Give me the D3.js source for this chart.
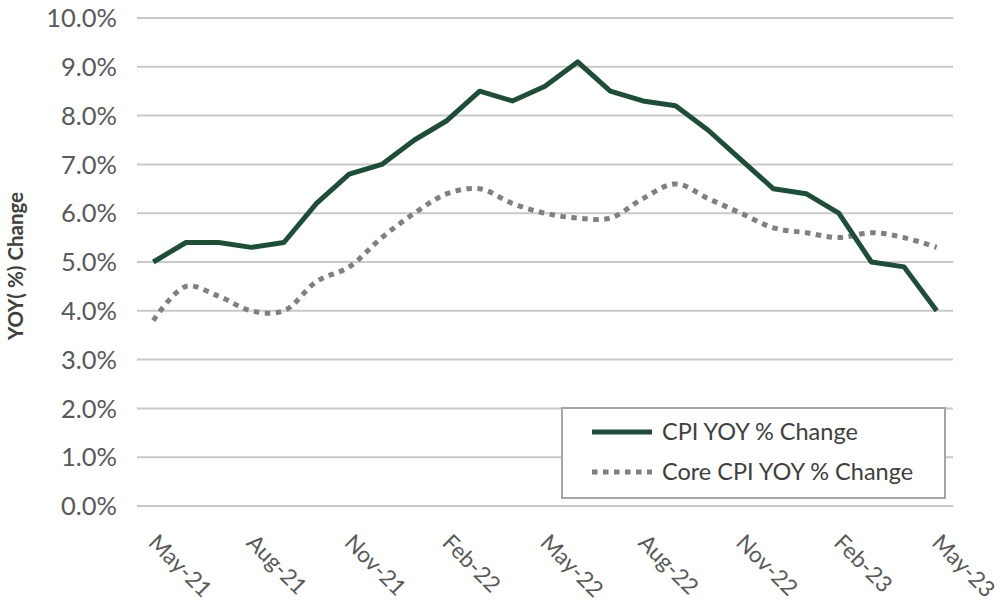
<!DOCTYPE html>
<html>
<head>
<meta charset="utf-8">
<script src="https://cdn.jsdelivr.net/npm/d3@7"></script>
<style>
html, body { margin: 0; padding: 0; background: #fff; }
svg { display: block; font-family: Lato, "Open Sans", sans-serif; }
</style>
</head>
<body>
<svg id="chart" width="1004" height="611"></svg>
<script>
const months = ["May-21","Jun-21","Jul-21","Aug-21","Sep-21","Oct-21","Nov-21","Dec-21",
  "Jan-22","Feb-22","Mar-22","Apr-22","May-22","Jun-22","Jul-22","Aug-22","Sep-22","Oct-22",
  "Nov-22","Dec-22","Jan-23","Feb-23","Mar-23","Apr-23","May-23"];
const cpi  = [5.0,5.4,5.4,5.3,5.4,6.2,6.8,7.0,7.5,7.9,8.5,8.3,8.6,9.1,8.5,8.3,8.2,7.7,7.1,6.5,6.4,6.0,5.0,4.9,4.0];
const core = [3.8,4.5,4.3,4.0,4.0,4.6,4.9,5.5,6.0,6.4,6.5,6.2,6.0,5.9,5.9,6.3,6.6,6.3,6.0,5.7,5.6,5.5,5.6,5.5,5.3];
const tickLabels = ["May-21","Aug-21","Nov-21","Feb-22","May-22","Aug-22","Nov-22","Feb-23","May-23"];
const yTicks = [0,1,2,3,4,5,6,7,8,9,10];
const seriesNames = ["CPI YOY % Change","Core CPI YOY % Change"];
const yTitle = "YOY(\u00A0%) Change";

(function () {
const svg = d3.select("#chart");
const mLeft = 137, mRight = 953, mTop = 18, mBottom = 506;

const x = d3.scaleBand().domain(months).range([mLeft, mRight]).paddingInner(0).paddingOuter(0);
const xc = d => x(d) + x.bandwidth() / 2;
const y = d3.scaleLinear().domain([0, 10]).range([mBottom, mTop]);

// gridlines
svg.append("g").selectAll("line").data(yTicks).join("line")
  .attr("x1", mLeft).attr("x2", mRight)
  .attr("y1", d => y(d)).attr("y2", d => y(d))
  .attr("stroke", "#c9c9c9").attr("stroke-width", 2);

// y axis labels
const yAxis = d3.axisLeft(y).tickValues(yTicks).tickSize(0).tickPadding(0)
  .tickFormat(d => d.toFixed(1) + "%");
const ya = svg.append("g").attr("transform", `translate(117,0)`).call(yAxis);
ya.select(".domain").remove();
ya.selectAll("text").attr("font-size", 25.5).attr("fill", "#595959")
  .attr("font-family", "Lato, 'Open Sans', sans-serif").attr("dy", "0.34em");

// x axis labels
const xAxis = d3.axisBottom(x).tickValues(tickLabels).tickSize(0).tickPadding(0);
const xa = svg.append("g").call(xAxis);
xa.select(".domain").remove();
xa.selectAll(".tick").attr("transform", d => `translate(${xc(d) - 6},544) rotate(45)`);
xa.selectAll("text").attr("x", 0).attr("y", 0).attr("dy", 0)
  .attr("text-anchor", "start").attr("font-size", 22.5).attr("fill", "#595959")
  .attr("font-family", "Lato, 'Open Sans', sans-serif");

// y title
svg.append("text")
  .attr("transform", `translate(23,266) rotate(-90)`)
  .attr("text-anchor", "middle")
  .attr("font-size", 20.5).attr("font-weight", "bold").attr("fill", "#404040")
  .text(yTitle);

// lines
const lineStraight = d3.line().x((d, i) => xc(months[i])).y(d => y(d));
const lineSmooth = d3.line().x((d, i) => xc(months[i])).y(d => y(d)).curve(d3.curveCatmullRom.alpha(0.5));

svg.append("path").datum(core).attr("d", lineSmooth)
  .attr("fill", "none").attr("stroke", "#808080").attr("stroke-width", 5)
  .attr("stroke-dasharray", "5.5,5.5");

svg.append("path").datum(cpi).attr("d", lineStraight)
  .attr("fill", "none").attr("stroke", "#1F4D38").attr("stroke-width", 5)
  .attr("stroke-linejoin", "round");

// legend
const lg = svg.append("g");
lg.append("rect").attr("x", 562).attr("y", 408).attr("width", 383).attr("height", 90)
  .attr("fill", "#fff").attr("stroke", "#a6a6a6").attr("stroke-width", 2);
const items = [
  {name: seriesNames[0], color: "#1F4D38", dash: null, yy: 432},
  {name: seriesNames[1], color: "#808080", dash: "5.5,5.5", yy: 472}
];
items.forEach(it => {
  lg.append("line").attr("x1", 592).attr("x2", 652).attr("y1", it.yy).attr("y2", it.yy)
    .attr("stroke", it.color).attr("stroke-width", 5)
    .attr("stroke-dasharray", it.dash);
  lg.append("text").attr("x", 662).attr("y", it.yy).attr("dy", "0.35em")
    .attr("font-size", 23.5).attr("fill", "#404040").text(it.name);
});
})();
</script>
</body>
</html>
